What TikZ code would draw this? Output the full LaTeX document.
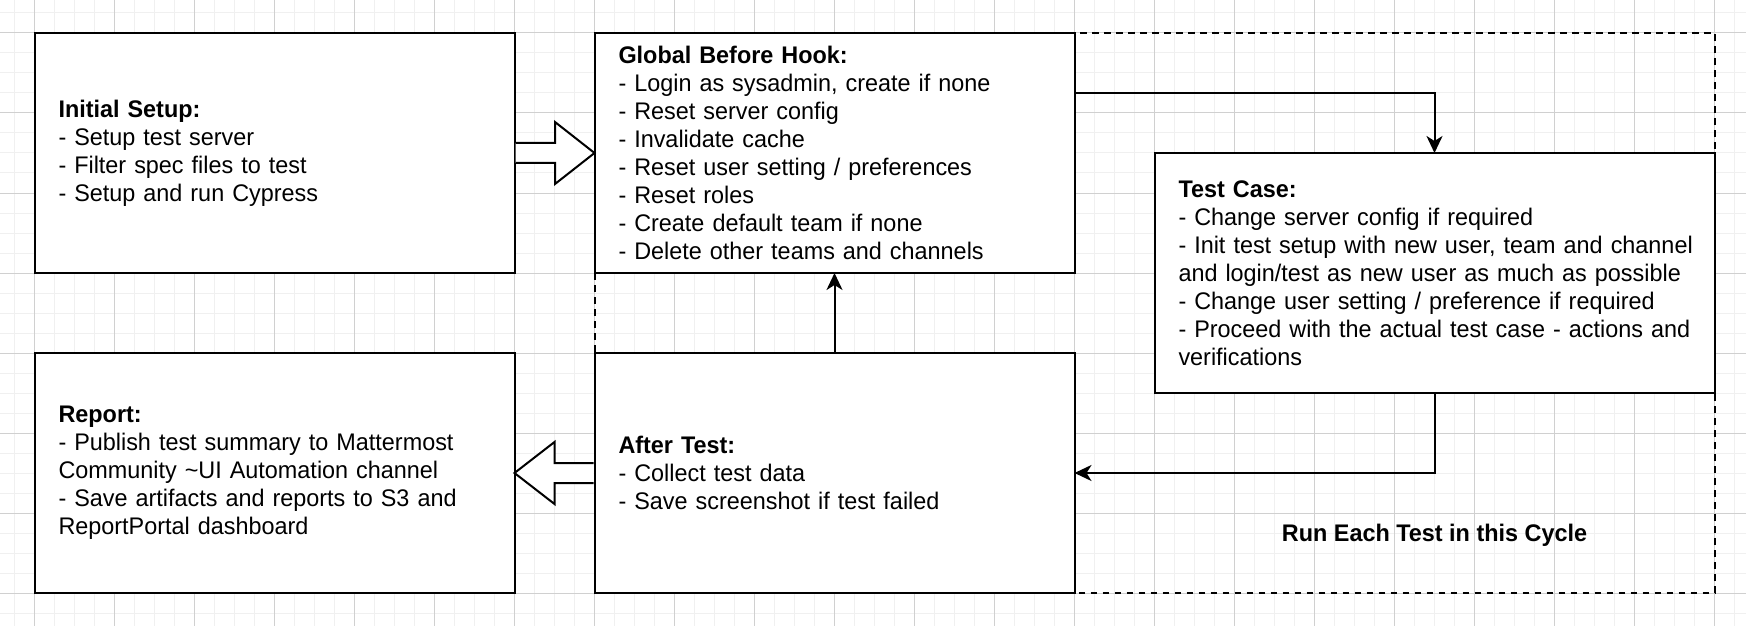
\documentclass[tikz,border=0pt]{standalone}
\usepackage{fontspec}
\setmainfont{Liberation Sans}[FakeStretch=0.975]
\usetikzlibrary{arrows.meta,calc,backgrounds}
\definecolor{gridmajor}{HTML}{D0D0D0}
\definecolor{gridminor}{HTML}{F0F0F0}
\begin{document}
\begin{tikzpicture}[x=0.5pt,y=-0.5pt,
  box/.style={draw=black, line width=1pt, fill=white, rectangle, anchor=north west,
    minimum width=240pt, minimum height=120pt, text width=216pt,
    inner xsep=12pt, inner ysep=0pt, outer sep=0pt, align=left,
    font=\fontsize{12}{14}\selectfont},
  widebox/.style={minimum width=280pt, text width=256pt},
  conn/.style={draw=black, line width=1pt, -{Stealth[length=8.5pt,width=8pt,inset=2.5pt]}},
  blockarrow/.style={draw=black, line width=1pt, fill=white, line join=miter},
  cyclebox/.style={draw=black, line width=1pt, dash pattern=on 3.3pt off 2.7pt},
  looplabel/.style={font=\fontsize{12}{14}\selectfont\bfseries, inner sep=0pt},
  gridminorline/.style={draw=gridminor, line width=0.5pt},
  gridmajorline/.style={draw=gridmajor, line width=0.5pt}
]
\useasboundingbox (0,0) rectangle (1746,626);

\node[box] (b1) at (34.5,33) {\textbf{Initial Setup:}\\- Setup test server\\- Filter spec files to test\\- Setup and run Cypress};
\node[box] (b2) at (594.5,33) {\textbf{Global Before Hook:}\\- Login as sysadmin, create if none\\- Reset server config\\- Invalidate cache\\- Reset user setting / preferences\\- Reset roles\\- Create default team if none\\- Delete other teams and channels};
\node[box,widebox] (b3) at (1154.5,153) {\textbf{Test Case:}\\\mbox{- Change server config if required}\\\mbox{- Init test setup with new user, team and channel}\\\mbox{and login/test as new user as much as possible}\\\mbox{- Change user setting / preference if required}\\\mbox{- Proceed with the actual test case - actions and}\\verifications};
\node[box] (b4) at (34.5,353) {\textbf{Report:}\\- Publish test summary to Mattermost\\Community \textasciitilde UI Automation channel\\- Save artifacts and reports to S3 and\\ReportPortal dashboard};
\node[box] (b5) at (594.5,353) {\textbf{After Test:}\\- Collect test data\\- Save screenshot if test failed};

\node[looplabel] (lbl) at (1434.5,535) {Run Each Test in this Cycle};

\filldraw[blockarrow] ($(b1.east)+(1,-10)$) -- ($(b1.east)+(40.5,-10)$) -- ($(b1.east)+(40.5,-31)$) -- (b2.west) -- ($(b1.east)+(40.5,31)$) -- ($(b1.east)+(40.5,10)$) -- ($(b1.east)+(1,10)$);
\filldraw[blockarrow] ($(b5.west)+(-1,-10)$) -- ($(b4.east)+(40,-10)$) -- ($(b4.east)+(40,-31)$) -- (b4.east) -- ($(b4.east)+(40,31)$) -- ($(b4.east)+(40,10)$) -- ($(b5.west)+(-1,10)$);

\draw[conn] ($(b2.east)+(0,-60)$) -| (b3.north);
\draw[conn] (b3.south) |- (b5.east);
\draw[conn] (b5.north) -- (b2.south);

\begin{pgfonlayer}{background}
\fill[white] (0,0) rectangle (1746,626);
\foreach \i in {0,...,86} \draw[gridminorline] (14.5+20*\i,0) -- (14.5+20*\i,626);
\foreach \j in {0,...,30} \draw[gridminorline] (0,13+20*\j) -- (1746,13+20*\j);
\foreach \i in {0,...,21} \draw[gridmajorline] (34.5+80*\i,0) -- (34.5+80*\i,626);
\foreach \j in {0,...,7} \draw[gridmajorline] (0,33+80*\j) -- (1746,33+80*\j);
\draw[cyclebox] (b2.north west) rectangle (b3.east |- b5.south);
\end{pgfonlayer}
\end{tikzpicture}
\end{document}
